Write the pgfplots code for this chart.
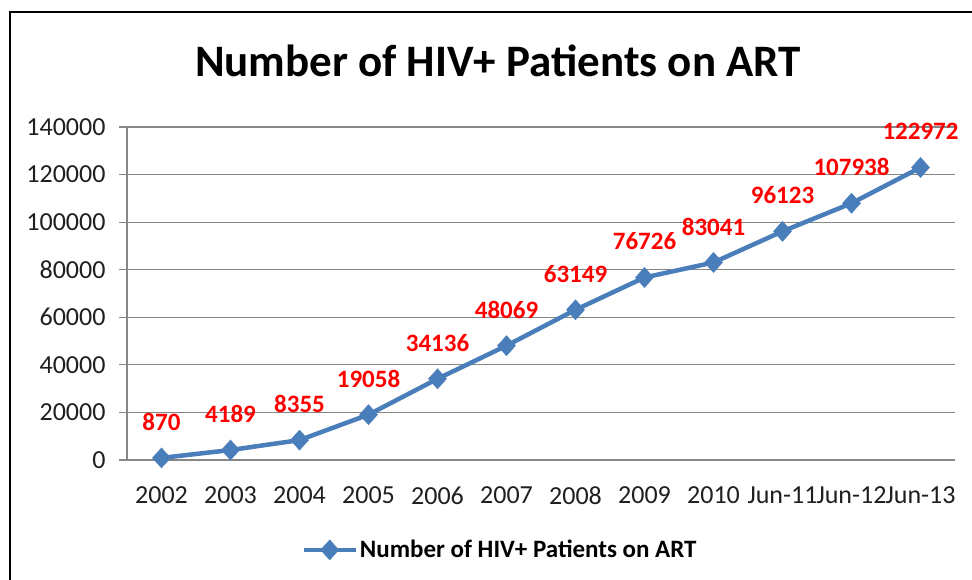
\documentclass[border=0pt]{standalone}
\usepackage{pgfplots}
\pgfplotsset{compat=1.18}
\usepackage{fontspec}
\setmainfont{Carlito}
\definecolor{serblue}{HTML}{4A7EBB}
\definecolor{axgray}{HTML}{868686}
\begin{document}
\begin{tikzpicture}[x=1bp,y=1bp]
\useasboundingbox (0,0) rectangle (972,580);
\draw[line width=2.5bp,black] (10,-5) -- (10,568) -- (980,568);
\begin{axis}[
  at={(127bp,120bp)}, anchor=south west,
  width=828bp, height=333bp, scale only axis,
  xmin=-0.5, xmax=11.5, ymin=0, ymax=140000,
  axis x line*=bottom, axis y line*=left,
  axis line style={axgray, line width=1.2bp, -},
  xtick={0,...,11},
  xticklabels={2002,2003,2004,2005,2006,2007,2008,2009,2010,Jun-11,Jun-12,Jun-13},
  x tick style={draw=none},
  extra x ticks={-0.5,0.5,...,11.5},
  extra x tick labels={},
  extra x tick style={tick style={draw=axgray, line width=1.2bp}, major tick length=8bp, tick align=outside, grid=none},
  ytick={0,20000,...,140000},
  yticklabels={0,20000,40000,60000,80000,100000,120000,140000},
  y tick style={draw=axgray, line width=1.2bp},
  major tick length=8bp, tick align=outside,
  ymajorgrids, grid style={axgray, line width=1.2bp},
  scaled y ticks=false,
  tick label style={font=\fontsize{26bp}{31bp}\selectfont, text=black!88},
  yticklabel style={xshift=-10bp},
  xticklabel style={yshift=-15bp},
  title={\bfseries Number of HIV+ Patients on ART},
  title style={font=\fontsize{45bp}{54bp}\selectfont, at={(axis description cs:0.448,1.135)}, anchor=base, inner sep=0pt},
  legend style={at={(axis description cs:0.4505,-0.27)}, anchor=center, draw=none, fill=none,
    font=\fontsize{25bp}{30bp}\selectfont\bfseries, inner sep=0pt,
    nodes={inner sep=2bp}},
  legend image code/.code={\draw[#1,mark repeat=2,mark phase=2] plot coordinates {(0bp,0bp) (26bp,0bp) (52bp,0bp)};},
  clip=false,
]
\addplot[serblue, line width=4.5bp, mark=diamond*, mark size=10bp, mark options={xscale=1.2, solid, fill=serblue, draw=serblue, line width=0.5bp},
  point meta=explicit symbolic,
  nodes near coords,
  every node near coord/.append style={anchor=center, yshift=36bp, text=red, font=\fontsize{25bp}{30bp}\selectfont\bfseries, inner sep=0pt}]
coordinates {
(0,870) [870]
(1,4189) [4189]
(2,8355) [8355]
(3,19058) [19058]
(4,34136) [34136]
(5,48069) [48069]
(6,63149) [63149]
(7,76726) [76726]
(8,83041) [83041]
(9,96123) [96123]
(10,107938) [107938]
(11,122972) [122972]
};
\addlegendentry{Number of HIV+ Patients on ART}
\end{axis}
\end{tikzpicture}
\end{document}
